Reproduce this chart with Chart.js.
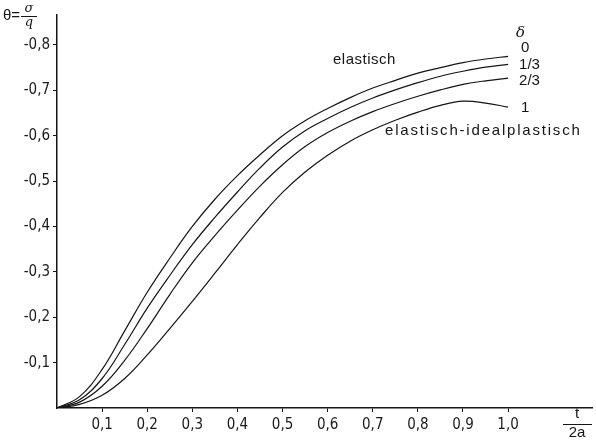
<!DOCTYPE html>
<html>
<head>
<meta charset="utf-8">
<script src="https://cdn.jsdelivr.net/npm/chart.js@4.4.1/dist/chart.umd.min.js"></script>
<style>
  html, body { margin: 0; padding: 0; background: #fff; }
  canvas { display: block; }
</style>
</head>
<body>
<canvas id="chart" width="596" height="444"></canvas>
<script>
// t / 2a
const tVals = [0, 0.05, 0.1, 0.15, 0.2, 0.25, 0.3, 0.35, 0.4, 0.45, 0.5,
               0.55, 0.6, 0.65, 0.7, 0.75, 0.8, 0.85, 0.9, 0.95, 1.0];
// theta = sigma / q, one curve per delta
const delta0  = [0, -0.025, -0.085, -0.17, -0.255, -0.33, -0.40, -0.46, -0.512, -0.558, -0.60,
                 -0.633, -0.66, -0.684, -0.705, -0.722, -0.738, -0.75, -0.761, -0.769, -0.775];
const delta13 = [0, -0.018, -0.065, -0.14, -0.22, -0.292, -0.36, -0.42, -0.476, -0.529, -0.575,
                 -0.611, -0.638, -0.662, -0.683, -0.701, -0.717, -0.731, -0.742, -0.751, -0.757];
const delta23 = [0, -0.013, -0.048, -0.105, -0.175, -0.25, -0.32, -0.38, -0.436, -0.489, -0.536,
                 -0.576, -0.607, -0.632, -0.653, -0.671, -0.687, -0.701, -0.713, -0.721, -0.727];
const delta1  = [0, -0.008, -0.028, -0.065, -0.117, -0.175, -0.235, -0.297, -0.36, -0.42, -0.475,
                 -0.52, -0.557, -0.588, -0.613, -0.634, -0.652, -0.667, -0.676, -0.672, -0.663];

const xTicks = [0.1, 0.2, 0.3, 0.4, 0.5, 0.6, 0.7, 0.8, 0.9, 1.0];
const yTicks = [-0.1, -0.2, -0.3, -0.4, -0.5, -0.6, -0.7, -0.8];
const deltaLabels = ['0', '1/3', '2/3', '1'];

const tickFont = { family: "'Liberation Sans Narrow', 'DejaVu Sans Condensed', 'Liberation Sans', sans-serif", size: 15 };
const fmt = v => v.toFixed(1).replace('.', ',');

function curve(vals) {
  return {
    data: tVals.map((t, i) => ({ x: t, y: vals[i] })),
    borderColor: '#151515',
    borderWidth: 1.2,
    pointRadius: 0,
    fill: false,
    tension: 0.4
  };
}

// axis titles and curve annotations
const notes = {
  id: 'notes',
  afterDraw(chart) {
    const ctx = chart.ctx;
    const xs = chart.scales.x;
    ctx.save();
    ctx.fillStyle = '#151515';
    ctx.strokeStyle = '#151515';
    ctx.textBaseline = 'middle';
    ctx.font = "15px 'Liberation Sans', sans-serif";

    // theta = sigma / q
    ctx.textAlign = 'left';
    ctx.fillText('θ=', 3, 16);
    ctx.textAlign = 'center';
    ctx.font = "italic 13px 'DejaVu Serif', serif";
    ctx.fillText('σ', 29, 9);
    ctx.fillText('q', 29, 23);
    ctx.lineWidth = 1;
    ctx.beginPath(); ctx.moveTo(21, 16.5); ctx.lineTo(37, 16.5); ctx.stroke();

    // t / 2a
    ctx.font = "15px 'Liberation Sans', sans-serif";
    ctx.fillText('t', 577, 414);
    ctx.fillText('2a', 577, 433);
    ctx.beginPath(); ctx.moveTo(563, 424.5); ctx.lineTo(592, 424.5); ctx.stroke();

    // delta labels at the curve ends
    const lx = xs.getPixelForValue(1.0) + 12;
    ctx.textAlign = 'left';
    ctx.font = "italic 15px 'DejaVu Serif', serif";
    ctx.fillText('δ', lx - 4, 33);
    ctx.font = "15px 'Liberation Sans', sans-serif";
    const ly = [48, 65, 81, 108];
    deltaLabels.forEach((s, i) => ctx.fillText(s, lx + (s.length === 1 ? 1 : -1), ly[i]));

    ctx.letterSpacing = '0.5px';
    ctx.fillText('elastisch', 333, 60);
    ctx.letterSpacing = '1.8px';
    ctx.fillText('elastisch-idealplastisch', 385, 131);
    ctx.restore();
  }
};

new Chart(document.getElementById('chart').getContext('2d'), {
  type: 'line',
  data: {
    datasets: [curve(delta0), curve(delta13), curve(delta23), curve(delta1)]
  },
  plugins: [notes],
  options: {
    responsive: false,
    animation: false,
    layout: { padding: { top: 15, right: 4, left: 0, bottom: 0 } },
    plugins: { legend: { display: false }, tooltip: { enabled: false } },
    scales: {
      x: {
        type: 'linear',
        min: 0,
        max: 1.186,
        afterBuildTicks: s => { s.ticks = xTicks.map(v => ({ value: v })); },
        afterFit: s => { s.height = 36; },
        border: { display: true, color: '#151515', width: 1.5 },
        grid: { drawOnChartArea: false, drawTicks: true, tickLength: 4, color: '#151515' },
        ticks: { callback: v => fmt(v), font: tickFont, color: '#1a1a1a', padding: 4, maxRotation: 0, autoSkip: false }
      },
      y: {
        type: 'linear',
        reverse: true,
        min: -0.866,
        max: 0,
        afterBuildTicks: s => { s.ticks = yTicks.map(v => ({ value: v })); },
        afterFit: s => { s.width = 57; },
        border: { display: true, color: '#151515', width: 1.5 },
        grid: { drawOnChartArea: false, drawTicks: true, tickLength: 4, color: '#151515' },
        ticks: { callback: v => fmt(v), font: tickFont, color: '#1a1a1a', padding: 3, autoSkip: false }
      }
    }
  }
});
</script>
</body>
</html>
